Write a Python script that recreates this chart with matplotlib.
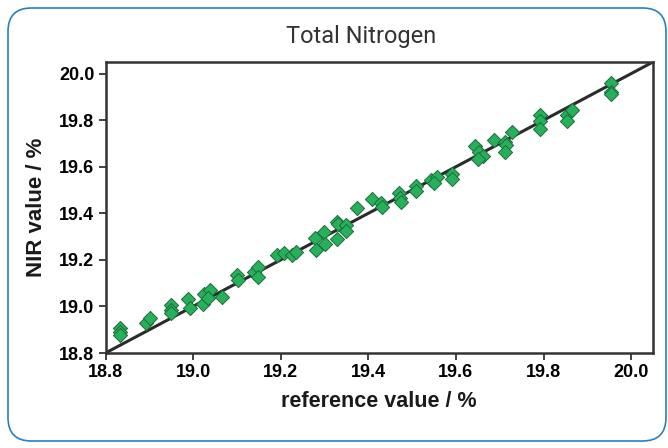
import matplotlib
matplotlib.use("Agg")
import matplotlib.pyplot as plt
from matplotlib import font_manager
from matplotlib.patches import FancyBboxPatch

ref_values = [18.833, 18.833, 18.833, 18.892, 18.901, 18.949, 18.949, 18.949, 18.988, 18.994,
              19.022, 19.026, 19.038, 19.033, 19.067, 19.101, 19.103, 19.140, 19.149, 19.149,
              19.192, 19.208, 19.226, 19.235, 19.278, 19.281, 19.299, 19.301, 19.328, 19.331,
              19.328, 19.349, 19.349, 19.374, 19.408, 19.428, 19.431, 19.469, 19.472, 19.474,
              19.508, 19.510, 19.544, 19.556, 19.551, 19.590, 19.592, 19.644, 19.653, 19.663,
              19.651, 19.688, 19.713, 19.715, 19.713, 19.728, 19.792, 19.792, 19.792, 19.853,
              19.865, 19.853, 19.953, 19.953, 19.953]
nir_values = [18.907, 18.890, 18.877, 18.929, 18.950, 19.006, 18.985, 18.972, 19.032, 18.993,
              19.010, 19.053, 19.070, 19.036, 19.040, 19.135, 19.113, 19.148, 19.169, 19.126,
              19.221, 19.229, 19.221, 19.233, 19.294, 19.242, 19.319, 19.268, 19.362, 19.354,
              19.289, 19.349, 19.324, 19.422, 19.461, 19.444, 19.427, 19.487, 19.465, 19.448,
              19.517, 19.495, 19.542, 19.555, 19.530, 19.568, 19.547, 19.688, 19.663, 19.645,
              19.633, 19.714, 19.706, 19.693, 19.663, 19.749, 19.821, 19.796, 19.761, 19.821,
              19.843, 19.796, 19.959, 19.920, 19.912]
ticks = [18.8, 19.0, 19.2, 19.4, 19.6, 19.8, 20.0]
tick_labels = ["18.8", "19.0", "19.2", "19.4", "19.6", "19.8", "20.0"]
title = "Total Nitrogen"
xlabel = "reference value / %"
ylabel = "NIR value / %"

names = {f.name for f in font_manager.fontManager.ttflist}
narrow = "Liberation Sans Narrow" if "Liberation Sans Narrow" in names else "Liberation Sans"

fig = plt.figure(figsize=(6.68, 4.48), dpi=100)
W, H = 668, 448

border = FancyBboxPatch((8 / W, 7 / H), (666 - 8) / W, (440 - 7) / H,
                        boxstyle="round,pad=0,rounding_size=0.035",
                        transform=fig.transFigure, fill=False,
                        edgecolor="#2a7fc4", linewidth=1.2, mutation_aspect=W / H)
fig.patches.append(border)

ax = fig.add_axes([105.5 / W, 1 - 353 / H, (653 - 105.5) / W, (353 - 62) / H])
lo, hi = 18.8, 20.05
ax.plot([lo, hi], [lo, hi], color="#2b2b2b", linewidth=2.2, zorder=2)
ax.scatter(ref_values, nir_values, marker="D", s=52, facecolor="#27b05a",
           edgecolor="#1d6b3a", linewidth=0.7, zorder=3)
ax.set_xlim(lo, hi)
ax.set_ylim(lo, hi)
ax.set_xticks(ticks)
ax.set_yticks(ticks)
ax.set_xticklabels(tick_labels, fontfamily=narrow, fontweight="bold", fontsize=13)
ax.set_yticklabels(tick_labels, fontfamily=narrow, fontweight="bold", fontsize=13)
ax.tick_params(direction="out", length=5, width=1.3, color="#333333", pad=3)
for sp in ax.spines.values():
    sp.set_color("#333333")
    sp.set_linewidth(1.8)

ax.set_xlabel(xlabel, fontfamily=narrow, fontsize=15.5, fontweight="bold", color="#1a1a1a", labelpad=7)
ax.set_ylabel(ylabel, fontfamily="Liberation Sans", fontsize=16, fontweight="bold", color="#1a1a1a", labelpad=9)
fig.text(361 / W, 1 - 37 / H, title, ha="center", va="center", fontsize=17,
         fontfamily="Roboto", fontweight="normal", color="#333333")

fig.savefig("out.png", dpi=100)
